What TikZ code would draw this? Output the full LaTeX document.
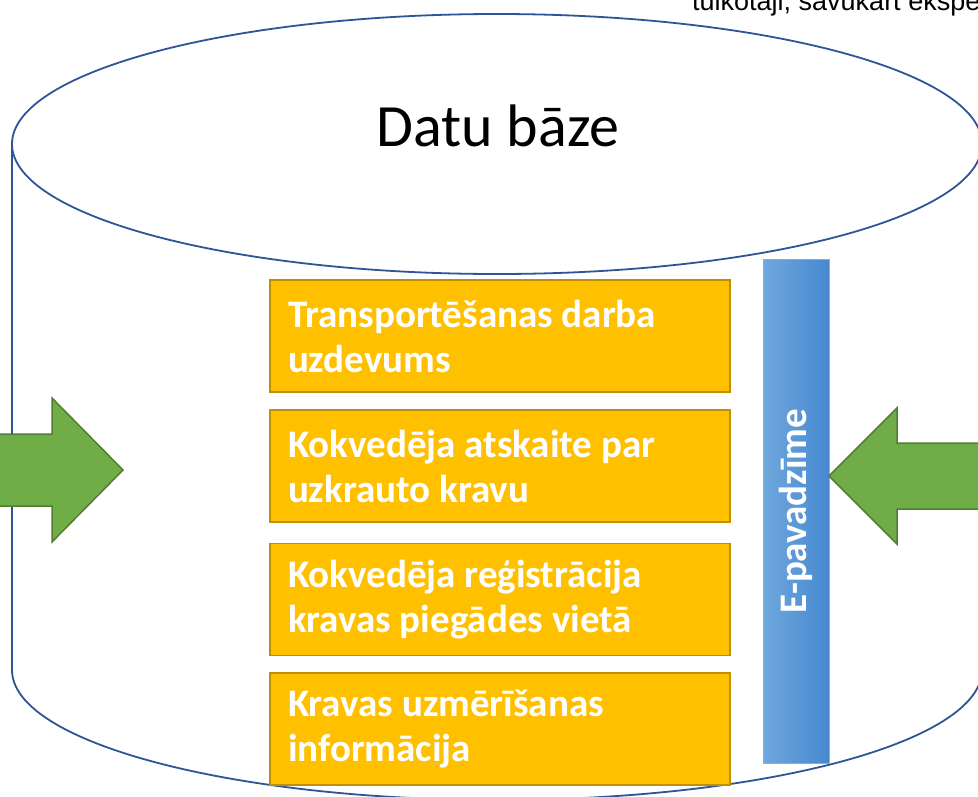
\documentclass[tikz,border=0pt]{standalone}
\usepackage{fontspec}
\setmainfont{Carlito}
\newfontfamily\arialfont{Liberation Sans}
\usetikzlibrary{shadings}
\definecolor{cylline}{HTML}{2F5597}
\definecolor{boxfill}{HTML}{FFC000}
\definecolor{boxline}{HTML}{BF9000}
\definecolor{arrfill}{HTML}{70AD47}
\definecolor{arrline}{HTML}{507E32}
\definecolor{barleft}{HTML}{70A8DE}
\definecolor{barright}{HTML}{4688CF}
\definecolor{barline}{HTML}{7FB0E2}
\tikzset{
  cyl/.style={draw=cylline, line width=1.8pt},
  infobox/.style={draw=boxline, fill=boxfill, line width=1.5pt, text=white,
    font=\bfseries\fontsize{39}{45}\selectfont, text width=424pt, inner xsep=18pt,
    inner ysep=0pt, minimum height=112pt, align=flush left},
  fatarrow/.style={fill=arrfill, draw=arrline, line width=1.5pt, line join=miter},
}
\begin{document}
\begin{tikzpicture}[x=1pt,y=-1pt]
\useasboundingbox (0,0) rectangle (978,796);
\clip (0,0) rectangle (978,796);
\fill[white] (0,0) rectangle (978,796);
% cylinder
\draw[cyl] (497,144) ellipse [x radius=485pt, y radius=130pt];
\draw[cyl] (12,144) -- (12,670);
\draw[cyl] (982,144) -- (982,670);
\begin{scope}
  \clip (0,670) rectangle (978,800);
  \draw[cyl] (497,670) ellipse [x radius=485pt, y radius=130pt];
\end{scope}
\node (title) at (498,126) {\fontsize{60}{72}\selectfont Datu bāze};
% top text
\node[anchor=base west, inner sep=0pt, font=\arialfont\fontsize{27}{30}\selectfont] (toptext) at (692,10) {tulkotāji, savukārt eksperti};
% boxes
\node[infobox] (b1) at (500,336) {\hyphenpenalty=10000 Transportēšanas darba uzdevums};
\node[infobox] (b2) at (500,466) {\hyphenpenalty=10000 Kokvedēja atskaite par uzkrauto kravu};
\node[infobox] (b3) at (500,599.5) {\hyphenpenalty=10000 Kokvedēja reģistrācija kravas piegādes vietā};
\node[infobox] (b4) at (500,729) {\hyphenpenalty=10000 Kravas uzmērīšanas informācija};
% blue bar
\node[draw=barline, line width=0.8pt, left color=barleft, right color=barright,
  minimum width=66pt, minimum height=504pt, inner sep=0pt] (bar) at (796,511) {};
\node[rotate=90, text=white, font=\bfseries\fontsize{39}{45}\selectfont] (barlabel) at (bar.center) {E-pavadzīme};
% arrows
\draw[fatarrow] (-20,434) -- (52,434) -- (52,398) -- (123,470) -- (52,542) -- (52,506) -- (-20,506) -- cycle;
\draw[fatarrow] (1000,443) -- (897,443) -- (897,408) -- (829,476) -- (897,544) -- (897,509) -- (1000,509) -- cycle;
\end{tikzpicture}
\end{document}
